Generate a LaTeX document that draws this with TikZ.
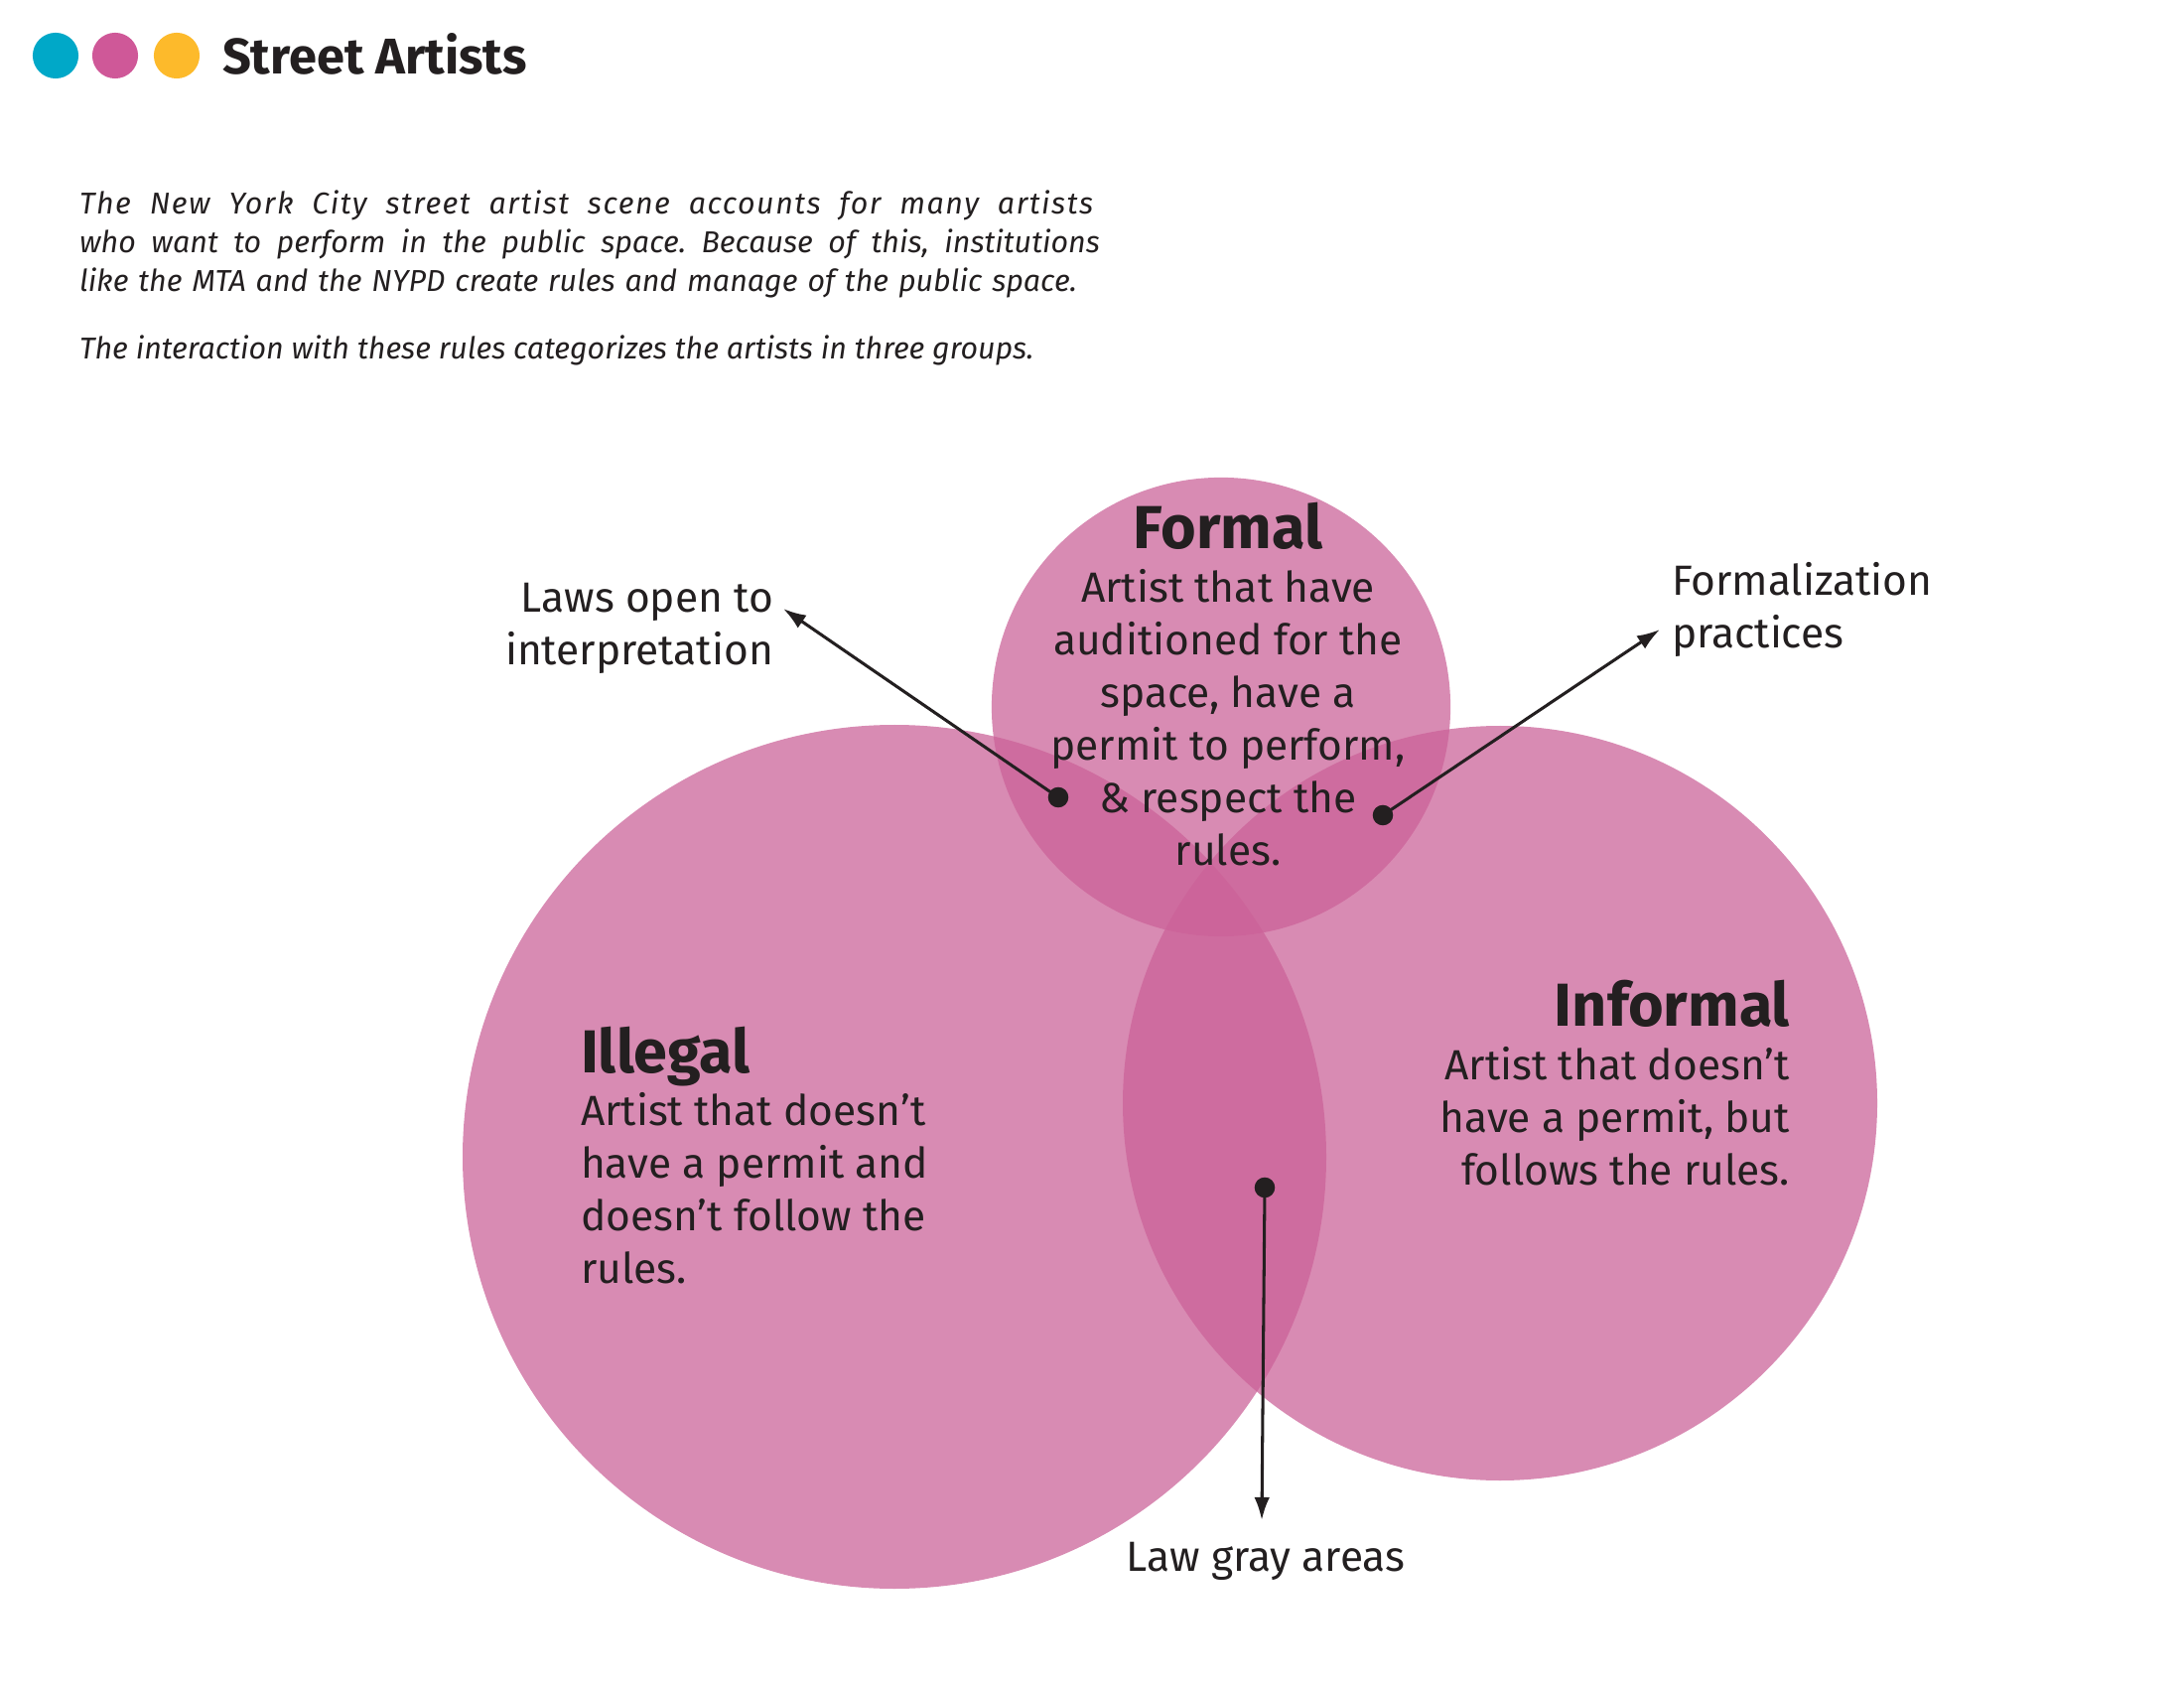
\documentclass[tikz,border=0pt]{standalone}
\usepackage{fontspec}
\setmainfont{Fira Sans}
\usetikzlibrary{arrows.meta}
\definecolor{ink}{HTML}{231F20}
\definecolor{venn}{RGB}{203,98,152}
\definecolor{dotcyan}{RGB}{0,168,200}
\definecolor{dotpink}{RGB}{207,88,152}
\definecolor{dotyellow}{RGB}{253,186,43}
\frenchspacing
\begin{document}
\begin{tikzpicture}[x=0.36pt,y=-0.36pt,
  every node/.style={text=ink, inner sep=0pt, outer sep=0pt},
  vennset/.style={fill=venn, fill opacity=0.74},
  headdot/.style={circle, minimum size=16.6pt},
  title/.style={font=\fontsize{18.2}{22}\selectfont\bfseries, anchor=base west},
  intro/.style={font=\fontsize{10.95}{14}\selectfont\itshape, anchor=base west},
  heading/.style={font=\fontsize{22}{26}\selectfont\bfseries},
  bodytxt/.style={font=\fontsize{15.3}{19.08}\selectfont},
  pin/.style={circle, fill=ink, minimum size=7.4pt},
  pointer/.style={draw=ink, line width=1.1pt, -{Latex[length=8.3pt,width=5.6pt]}},
]
\useasboundingbox (0,0) rectangle (2200,1700);

% header
\node[headdot, fill=dotcyan] (d1) at (56,56) {};
\node[headdot, fill=dotpink] (d2) at (116,56) {};
\node[headdot, fill=dotyellow] (d3) at (178,56) {};
\node[title] (title) at (224,75) {Street Artists};

% intro paragraph
\node[intro] (p1) at (80,216) {\addfontfeature{LetterSpace=5}\makebox[367.6pt][s]{The New York City street artist scene accounts for many artists}};
\node[intro] (p2) at (80,255) {\makebox[370pt][s]{who want to perform in the public space. Because of this, institutions}};
\node[intro] (p3) at (80,294) {\makebox[361.8pt][s]{like the MTA and the NYPD create rules and manage of the public space.}};
\node[intro] (p4) at (80,362) {The interaction with these rules categorizes the artists in three groups.};

% venn circles
\fill[vennset] (901,1165) circle[radius=156.6pt];
\fill[vennset] (1511,1111) circle[radius=136.8pt];
\fill[vennset] (1230,712) circle[radius=83.2pt];

% formal
\node[heading, anchor=base] (formalh) at (1237,553) {Formal};
\node[bodytxt, anchor=base] (formalb) at (1237,607) {\begin{tabular}[t]{@{}c@{}}Artist that have\\ auditioned for the\\ space, have a\\ permit to perform,\\ \& respect the\\ rules.\end{tabular}};

% illegal
\node[heading, anchor=base west] (illegalh) at (585,1080) {Illegal};
\node[bodytxt, anchor=base west] (illegalb) at (585,1133) {\begin{tabular}[t]{@{}l@{}}Artist that doesn’t\\ have a permit and\\ doesn’t follow the\\ rules.\end{tabular}};

% informal
\node[heading, anchor=base east] (informalh) at (1803,1033) {Informal};
\node[bodytxt, anchor=base east] (informalb) at (1803,1087) {\begin{tabular}[t]{@{}r@{}}Artist that doesn’t\\ have a permit, but\\ follows the rules.\end{tabular}};

% side labels
\node[bodytxt, anchor=base east] (laws) at (779,617) {\begin{tabular}[t]{@{}r@{}}Laws open to\\ interpretation\end{tabular}};
\node[bodytxt, anchor=base west] (formalization) at (1684,600) {\begin{tabular}[t]{@{}l@{}}Formalization\\ practices\end{tabular}};
\node[bodytxt, anchor=base] (gray) at (1275,1582) {Law gray areas};

% pins and pointers
\node[pin] (pinL) at (1066,803) {};
\node[pin] (pinR) at (1393,821) {};
\node[pin] (pinB) at (1274,1196) {};
\coordinate (tipL) at (789,613);
\coordinate (tipR) at (1672,634);
\coordinate (tipB) at (1271,1531);
\draw[pointer] (pinL.center) -- (tipL);
\draw[pointer] (pinR.center) -- (tipR);
\draw[pointer] (pinB.center) -- (tipB);
\end{tikzpicture}
\end{document}
